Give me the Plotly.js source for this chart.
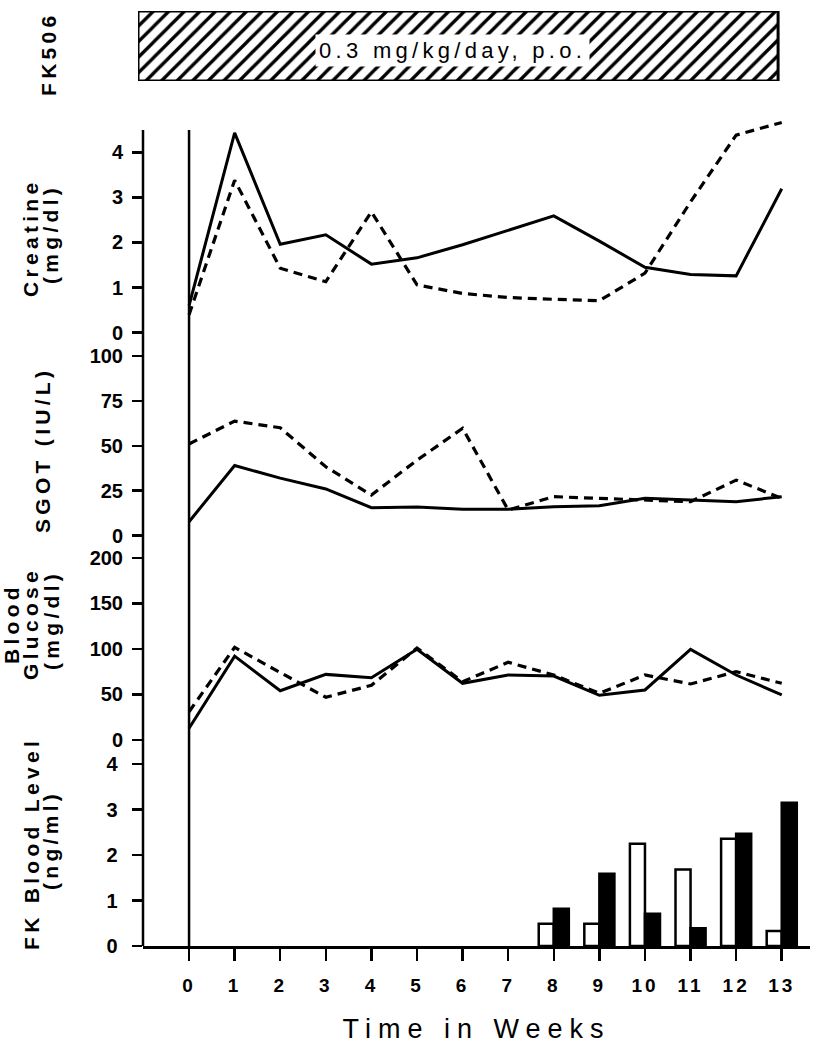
<!DOCTYPE html>
<html>
<head>
<meta charset="utf-8">
<script src="https://cdn.plot.ly/plotly-3.0.1.min.js"></script>
<style>
  html, body { margin: 0; padding: 0; background: #fff; }
  #chart { width: 822px; height: 1050px; }
  .ytick text { letter-spacing: 5.5px; }
  .xtick text { letter-spacing: 3px; }
  .xtitle { letter-spacing: 7px; }
  .annotation-text { letter-spacing: 4.3px; }
</style>
</head>
<body>
<div id="chart"></div>
<script>
// ---- data ----
const weeks = [0, 1, 2, 3, 4, 5, 6, 7, 8, 9, 10, 11, 12, 13];
const weekLabels = ["0","1","2","3","4","5","6","7","8","9","10","11","12","13"];

const creatineSolid  = [0.6, 4.43, 1.96, 2.17, 1.52, 1.66, 1.95, 2.27, 2.59, 2.03, 1.45, 1.29, 1.26, 3.19];
const creatineDashed = [0.4, 3.38, 1.43, 1.13, 2.68, 1.06, 0.87, 0.78, 0.74, 0.71, 1.32, 2.90, 4.38, 4.66];

const sgotSolid  = [7.8, 39, 32, 26, 15.6, 16, 14.7, 14.7, 16.1, 16.7, 20.8, 19.8, 18.9, 21.7];
const sgotDashed = [51, 63.7, 60, 38.3, 22.6, 42, 59.7, 14.3, 21.7, 20.8, 20.2, 18.9, 30.9, 20.8];

const glucoseSolid  = [12.8, 92, 54, 72, 68.4, 99.5, 62.2, 71.3, 70.2, 49, 54.9, 99.5, 71.3, 49.4];
const glucoseDashed = [31, 101.7, 74, 46.9, 60, 101, 64, 85.3, 71.3, 51.2, 71.3, 61.5, 75, 62.2];

const fkWeeks  = [8, 9, 10, 11, 12, 13];
const fkOpen   = [0.49, 0.49, 2.25, 1.68, 2.36, 0.33];
const fkFilled = [0.82, 1.59, 0.71, 0.39, 2.47, 3.15];

const doseStart = -1.12;
const doseEnd = 12.92;
const doseLabel = "0.3 mg/kg/day, p.o.";
const doseName = "FK506";

const creatineTicks = [0, 1, 2, 3, 4];
const sgotTicks = [0, 25, 50, 75, 100];
const glucoseTicks = [0, 50, 100, 150, 200];
const fkTicks = [0, 1, 2, 3, 4];

// ---- styling ----
const FONT = "Liberation Sans, Arial, Helvetica, sans-serif";
const solidLine = {color: "black", width: 3};
const dashedLine = {color: "black", width: 3.2, dash: "9px,6px"};

function line(x, y, yaxis, ln) {
  return {type: "scatter", mode: "lines", x: x, y: y, xaxis: "x", yaxis: yaxis,
          line: ln, hoverinfo: "skip", showlegend: false};
}

const traces = [
  line(weeks, creatineSolid, "y4", solidLine),
  line(weeks, creatineDashed, "y4", dashedLine),
  line(weeks, sgotSolid, "y3", solidLine),
  line(weeks, sgotDashed, "y3", dashedLine),
  line(weeks, glucoseSolid, "y2", solidLine),
  line(weeks, glucoseDashed, "y2", dashedLine),
  {type: "bar", x: fkWeeks, y: fkOpen, xaxis: "x", yaxis: "y", showlegend: false,
   marker: {color: "white", line: {color: "black", width: 2.5}}},
  {type: "bar", x: fkWeeks, y: fkFilled, xaxis: "x", yaxis: "y", showlegend: false,
   marker: {color: "black", line: {color: "black", width: 2.5}}},
  {type: "bar", orientation: "h", y: [doseName], x: [doseEnd - doseStart], base: [doseStart],
   xaxis: "x2", yaxis: "y5", width: 1, showlegend: false, hoverinfo: "skip",
   marker: {color: "white", line: {color: "black", width: 3},
            pattern: {shape: "/", size: 11, solidity: 0.3, fgcolor: "black", bgcolor: "white"}}}
];

const PLOTW = 822 - 138 - 12;
const xStart = 5 / PLOTW;

function yax(domain, range, ticks) {
  return {domain: domain, range: range, tickvals: ticks, ticktext: ticks.map(String),
          anchor: "x", side: "left",
          ticks: "outside", ticklen: 10, tickwidth: 2.5, tickcolor: "black",
          showline: false, showgrid: false, zeroline: false, fixedrange: true,
          ticklabelstandoff: 5,
          tickfont: {family: FONT, size: 20, color: "black", weight: "bold"}};
}

// the axis lines stop at 130 px; the creatine panel itself reaches a little higher
const topOfPanels = 0.8626;

const annFont = {family: FONT, size: 21, color: "black", weight: "bold"};
function ytitle(text, xpx, ypx) {
  return {text: text, xref: "paper", yref: "paper",
          x: (xpx - 138) / PLOTW, y: (946 - ypx) / 946,
          xanchor: "center", yanchor: "middle", textangle: -90,
          showarrow: false, font: annFont};
}

const layout = {
  width: 822, height: 1050,
  margin: {l: 138, r: 12, t: 0, b: 104},
  paper_bgcolor: "white", plot_bgcolor: "white",
  showlegend: false,
  barmode: "group", bargap: 0.34, bargroupgap: 0,
  xaxis: {domain: [xStart, 1], range: [-1.01, 13.62], tickvals: weeks, ticktext: weekLabels,
          ticks: "outside", ticklen: 12, tickwidth: 2.5, tickcolor: "black",
          showline: true, linewidth: 3, linecolor: "black",
          showgrid: false, zeroline: false, fixedrange: true, anchor: "y",
          ticklabelstandoff: 8,
          tickfont: {family: FONT, size: 19, color: "black", weight: "bold"},
          title: {text: "Time in Weeks", standoff: 25,
                  font: {family: FONT, size: 27, color: "black"}}},
  xaxis2: {domain: [0, 1], range: [-1.12, 13.62], visible: false, fixedrange: true, anchor: "y5"},
  yaxis: yax([0, 0.2135], [0, 4.44], fkTicks),
  yaxis2: yax([0.2178, 0.4323], [0, 222.8], glucoseTicks),
  yaxis3: yax([0.4337, 0.6469], [0, 112.1], sgotTicks),
  yaxis4: yax([0.6483, 0.8732], [0, 4.716], creatineTicks),
  yaxis5: {domain: [0.9144, 0.9884], range: [-0.5, 0.5], type: "category",
           visible: false, fixedrange: true, anchor: "x2"},
  shapes: [
    {type: "line", xref: "paper", yref: "paper", x0: xStart, x1: xStart, y0: 0, y1: topOfPanels,
     line: {color: "black", width: 2.5}},
    {type: "line", xref: "x", yref: "paper", x0: weeks[0], x1: weeks[0], y0: 0, y1: topOfPanels,
     line: {color: "black", width: 2.5}}
  ],
  annotations: [
    {text: doseLabel, xref: "x2", yref: "y5", x: (doseStart + doseEnd) / 2 - 0.12, y: -0.07,
     showarrow: false, bgcolor: "white", borderpad: 3,
     font: {family: FONT, size: 22, color: "black"}},
    ytitle(doseName, 49, 54),
    ytitle("Creatine", 31, 238),
    ytitle("(mg/dl)", 50, 234),
    ytitle("SGOT (IU/L)", 43, 450),
    ytitle("Blood", 12, 624),
    ytitle("Glucose", 31, 624),
    ytitle("(mg/dl)", 51, 620),
    ytitle("FK Blood Level", 31, 844),
    ytitle("(ng/ml)", 50, 840)
  ]
};

Plotly.newPlot("chart", traces, layout, {staticPlot: true, displayModeBar: false});
</script>
</body>
</html>
